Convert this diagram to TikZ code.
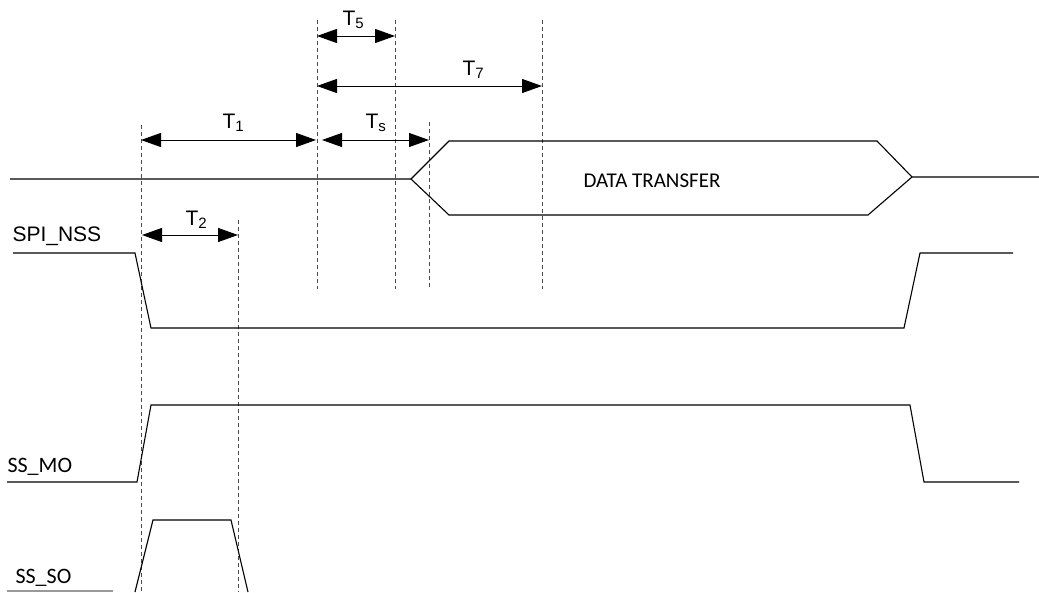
\documentclass[tikz,border=0pt]{standalone}
\usepackage{fontspec}
\setmainfont{Liberation Sans}
\newfontfamily\calib{Carlito}
\usetikzlibrary{arrows.meta}
\newcommand\tsub[2]{#1\raisebox{-3pt}{\fontsize{15}{15}\selectfont #2}}

\begin{document}
\begin{tikzpicture}[x=1pt,y=-1pt,line width=1.1pt,
  guide/.style={dash pattern=on 4pt off 3pt,line width=0.8pt,black!70},
  dim/.style={{Triangle[length=20pt,width=14pt]}-{Triangle[length=20pt,width=14pt]},line width=1pt},
  tlab/.style={inner sep=0pt,anchor=base west,font=\fontsize{21}{21}\selectfont},
  siglab/.style={inner sep=0pt,anchor=base west,font=\calib\fontsize{22}{22}\selectfont}]
  \useasboundingbox (0,0) rectangle (1039,592);

  % guide lines
  \foreach \n/\x/\ya/\yb in {g1/141/125/592,g2/238/220/592,g3/317/20/289,g4/395/20/289,g5/429/122/289,g6/542/20/289}{
    \coordinate (\n t) at (\x,\ya);
    \coordinate (\n b) at (\x,\yb);
    \draw[guide] (\n t)--(\n b);
  }

  % timing arrows
  \coordinate (t1a) at (141,140); \coordinate (t1b) at (316,140);
  \coordinate (tsa) at (322,140); \coordinate (tsb) at (429,140);
  \coordinate (t5a) at (317,36);  \coordinate (t5b) at (395,36);
  \coordinate (t7a) at (317,86);  \coordinate (t7b) at (542,86);
  \coordinate (t2a) at (142,235); \coordinate (t2b) at (238,235);
  \draw[dim](t1a)--(t1b);
  \draw[dim](tsa)--(tsb);
  \draw[dim](t5a)--(t5b);
  \draw[dim](t7a)--(t7b);
  \draw[dim](t2a)--(t2b);
  \node[tlab] (T1) at (222,128) {\tsub{T}{1}};
  \node[tlab] (Ts) at (365,128) {\tsub{T}{s}};
  \node[tlab] (T5) at (342,25) {\tsub{T}{5}};
  \node[tlab] (T7) at (462,75) {\tsub{T}{7}};
  \node[tlab] (T2) at (185,225) {\tsub{T}{2}};

  % data bus
  \coordinate (bl) at (411,179);
  \coordinate (br) at (912,177);
  \draw (10,179)--(bl)--(449,141)--(877,141)--(br)--(1039,177);
  \draw (bl)--(449,215)--(868,215)--(br);
  \node[siglab,font=\calib\fontsize{21}{21}\selectfont] (data) at (583,187) {DATA TRANSFER};

  % signals
  \node[tlab] (nss) at (12,241) {SPI\_NSS};
  \draw (13,253)--(135,253)--(151,328)--(904,328)--(920,253)--(1013,253);
  \node[siglab] (mo) at (7,472) {SS\_MO};
  \draw (7,482)--(137,482)--(151,405)--(910,405)--(924,482)--(1019,482);
  \node[siglab] (so) at (15,583) {SS\_SO};
  \draw[black!40] (7,591)--(113,591);
  \draw (135,592)--(153,520)--(231,520)--(248,592);
\end{tikzpicture}
\end{document}
